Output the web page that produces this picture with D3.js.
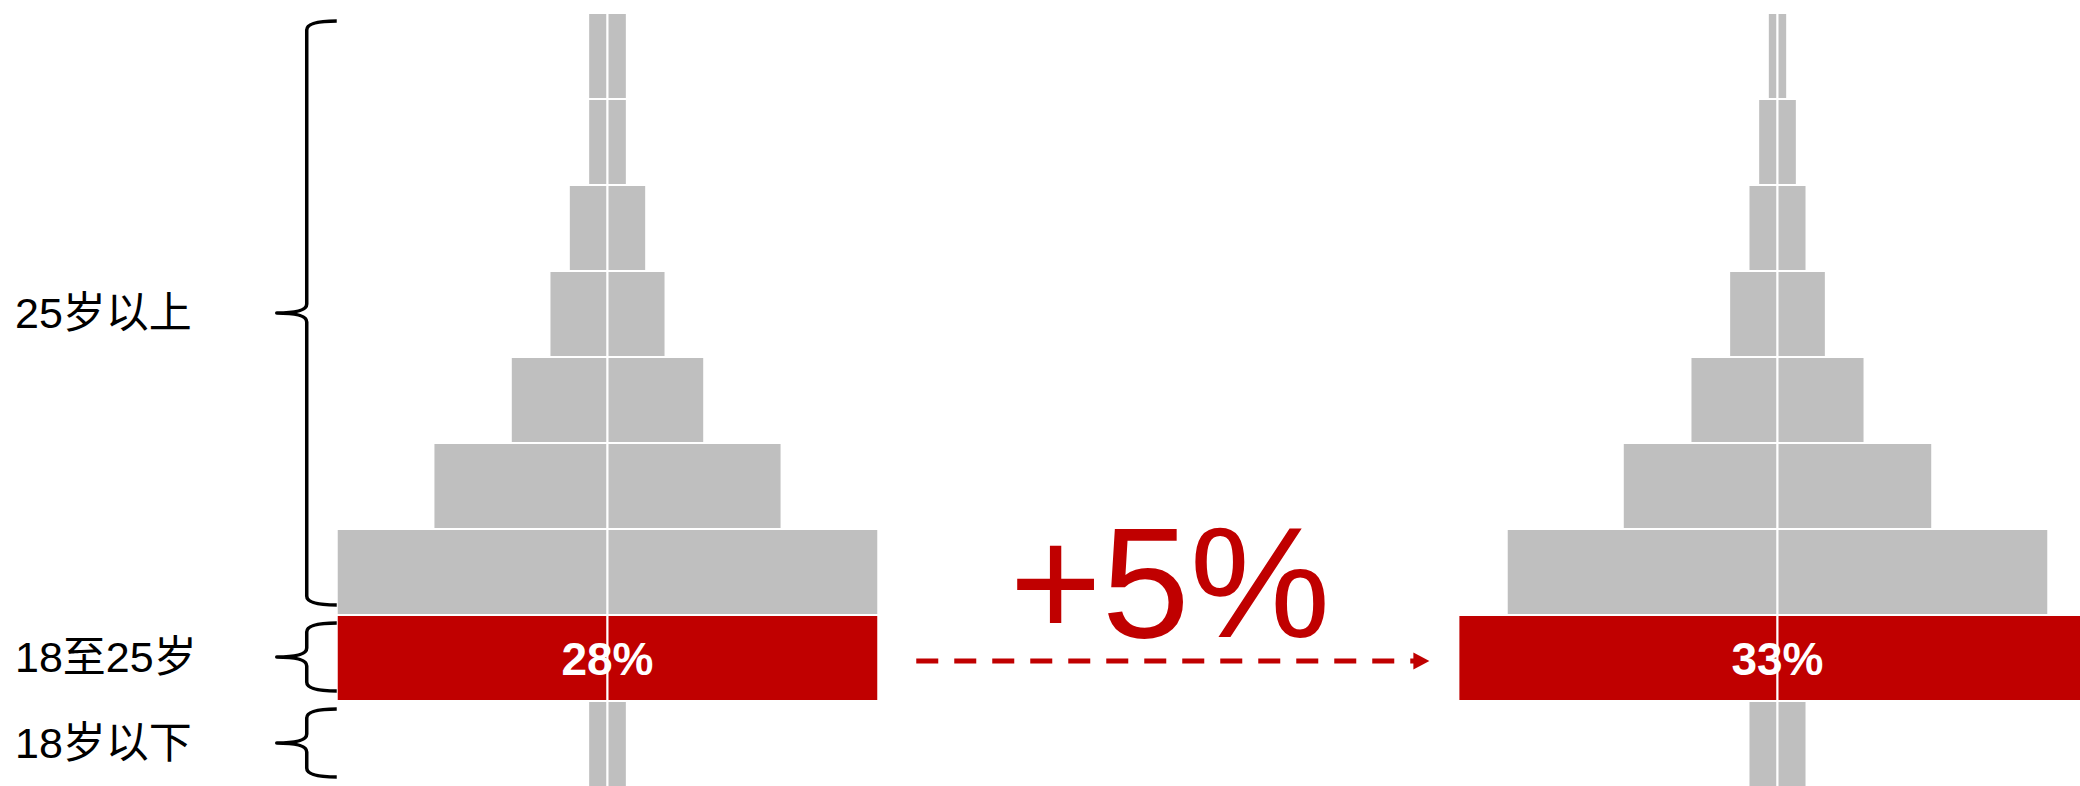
<!DOCTYPE html>
<html>
<head>
<meta charset="utf-8">
<script src="https://cdn.jsdelivr.net/npm/d3@7"></script>
<style>
  body { margin: 0; background: #fff; }
  svg { display: block; }
</style>
</head>
<body>
<div id="chart"></div>
<script>

// Age rows, from oldest (top) to youngest (bottom)
const rows = ["r1", "r2", "r3", "r4", "r5", "r6", "r7", "r8", "r9"];

// Share of each age row in %, before and after
const sharesBefore = [2, 2, 4, 6, 10, 18, 28, 28, 2];
const sharesAfter = [1, 2, 3, 5, 9, 16, 28, 33, 3];

// Row that is highlighted in red
const highlightRow = "r8";

// Age groups marked with braces on the left
const groupLabels = ["25岁以上", "18至25岁", "18岁以下"];
const groupFirstRow = ["r1", "r8", "r9"];
const groupLastRow = ["r7", "r8", "r9"];

const pyramids = ["before", "after"];

const width = 2080;
const height = 786;
const gray = "#bfbfbf";
const red = "#c00000";
const font = "'Liberation Sans', Arial, 'Noto Sans CJK SC', sans-serif";

const svg = d3.select("#chart")
    .append("svg")
    .attr("width", width)
    .attr("height", height);

// Scales
const y = d3.scaleBand()
    .domain(rows)
    .range([13, 787])
    .padding(0);

// half width of a bar, per % of share
const half = d3.scaleLinear()
    .domain([0, 10])
    .range([0, 96.7]);

const cx = d3.scalePoint()
    .domain(pyramids)
    .range([607.5, 1777.5]);

function drawPyramid(key, shares) {
    const data = rows.map((r, i) => ({ row: r, value: shares[i] }));
    const g = svg.append("g").attr("class", "pyramid-" + key);
    const c = cx(key);

    // left halves
    g.selectAll(".left")
        .data(data)
        .join("rect")
        .attr("class", "left")
        .attr("x", d => c - half(d.value))
        .attr("y", d => y(d.row))
        .attr("width", d => half(d.value))
        .attr("height", y.bandwidth())
        .attr("fill", d => d.row === highlightRow ? red : gray)
        .attr("stroke", "#fff")
        .attr("stroke-width", 2);

    // right halves
    g.selectAll(".right")
        .data(data)
        .join("rect")
        .attr("class", "right")
        .attr("x", c)
        .attr("y", d => y(d.row))
        .attr("width", d => half(d.value))
        .attr("height", y.bandwidth())
        .attr("fill", d => d.row === highlightRow ? red : gray)
        .attr("stroke", "#fff")
        .attr("stroke-width", 2);

    // value label on the highlighted row
    const hi = data.find(d => d.row === highlightRow);
    g.append("text")
        .attr("x", c)
        .attr("y", y(hi.row) + y.bandwidth() / 2 + 16.5)
        .attr("text-anchor", "middle")
        .attr("font-family", font)
        .attr("font-weight", "bold")
        .attr("font-size", 46)
        .attr("fill", "#fff")
        .text(hi.value + "%");
}

drawPyramid("before", sharesBefore);
drawPyramid("after", sharesAfter);

// Braces with age group labels
const braceEnd = cx("before") - half(d3.max(sharesBefore));
const braceX = braceEnd - 30;
const braceTip = braceEnd - 60;

const groups = groupLabels.map((label, i) => {
    const top = y(groupFirstRow[i]) + 8;
    const bottom = y(groupLastRow[i]) + y.bandwidth() - 10;
    return { label, top, bottom, mid: (top + bottom) / 2 };
});

function bracePath(d) {
    const r = 9;
    return `M${braceEnd},${d.top}` +
        `Q${braceX},${d.top} ${braceX},${d.top + r}` +
        `L${braceX},${d.mid - r}` +
        `Q${braceX},${d.mid} ${braceTip},${d.mid}` +
        `Q${braceX},${d.mid} ${braceX},${d.mid + r}` +
        `L${braceX},${d.bottom - r}` +
        `Q${braceX},${d.bottom} ${braceEnd},${d.bottom}`;
}

const braceGroup = svg.append("g").attr("class", "braces");

braceGroup.selectAll("path")
    .data(groups)
    .join("path")
    .attr("d", bracePath)
    .attr("fill", "none")
    .attr("stroke", "#000")
    .attr("stroke-width", 3.5)
    .attr("stroke-linejoin", "round");

braceGroup.selectAll("text")
    .data(groups)
    .join("text")
    .attr("x", 15)
    .attr("y", d => d.mid + 15)
    .attr("font-family", font)
    .attr("font-size", 43)
    .attr("fill", "#000")
    .text(d => d.label);

// Dashed arrow with the change between the two highlighted rows
const iHi = rows.indexOf(highlightRow);
const change = sharesAfter[iHi] - sharesBefore[iHi];
const arrowY = y(highlightRow) + y.bandwidth() / 2 + 3;
const arrowStart = cx("before") + half(sharesBefore[iHi]) + 38;
const arrowEnd = cx("after") - half(sharesAfter[iHi]) - 29;

svg.append("line")
    .attr("x1", arrowStart)
    .attr("x2", arrowEnd - 14)
    .attr("y1", arrowY)
    .attr("y2", arrowY)
    .attr("stroke", red)
    .attr("stroke-width", 5)
    .attr("stroke-dasharray", "22,16");

svg.append("path")
    .attr("d", `M${arrowEnd - 16},${arrowY - 8.5}L${arrowEnd},${arrowY}L${arrowEnd - 16},${arrowY + 8.5}Z`)
    .attr("fill", red);

svg.append("text")
    .attr("x", (arrowStart + arrowEnd) / 2 - 3)
    .attr("y", arrowY - 24)
    .attr("text-anchor", "middle")
    .attr("font-family", font)
    .attr("font-size", 158)
    .attr("fill", red)
    .text((change > 0 ? "+" : "") + change + "%");

</script>
</body>
</html>
